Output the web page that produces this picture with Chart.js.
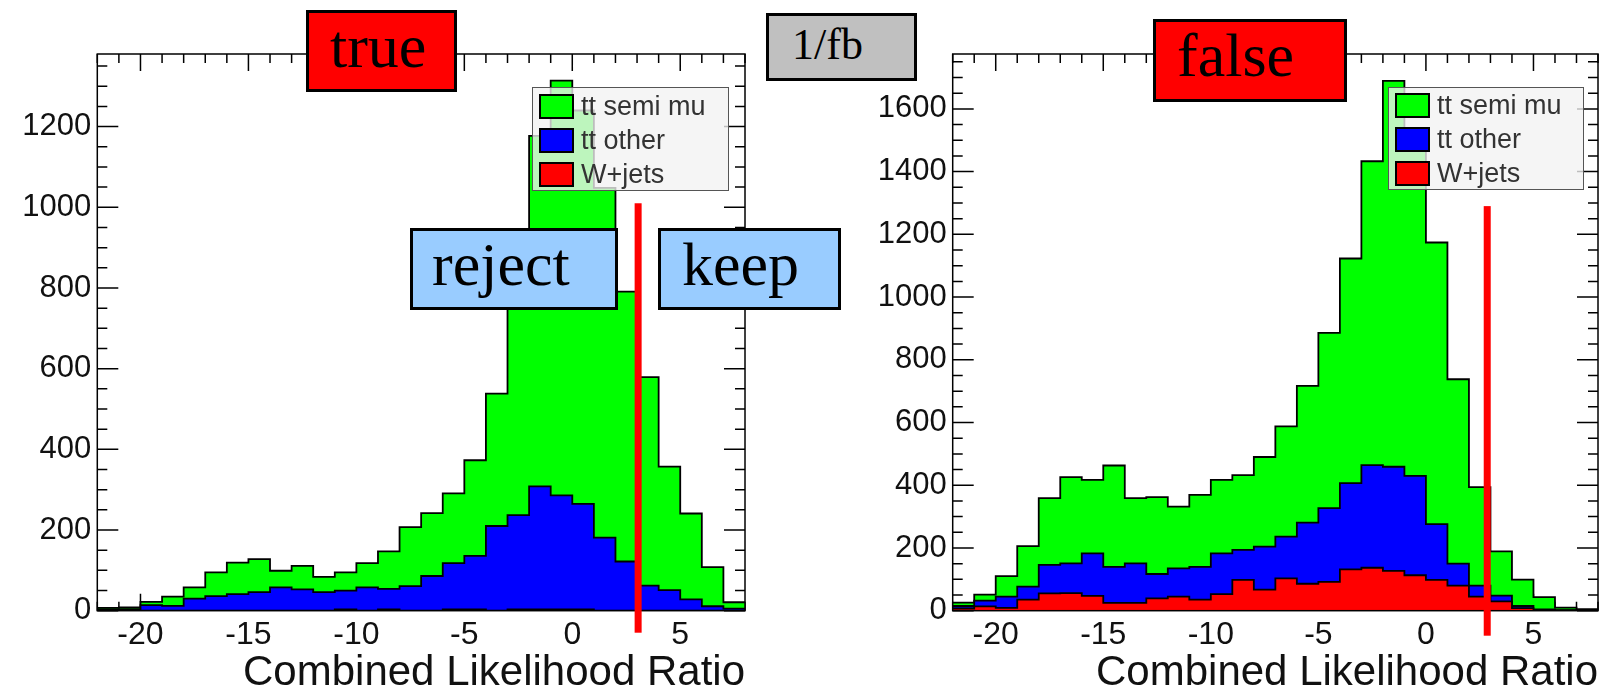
<!DOCTYPE html>
<html>
<head>
<meta charset="utf-8">
<script src="https://cdn.jsdelivr.net/npm/chart.js@4.4.1/dist/chart.umd.min.js"></script>
<style>
  body { margin: 0; background: #fff; width: 1613px; height: 700px; position: relative; overflow: hidden; }
  canvas { position: absolute; top: 0; }
  .tag { position: absolute; box-sizing: border-box; border: 3px solid #000; font-family: 'Liberation Serif', 'Times New Roman', serif; color: #000; white-space: nowrap; }
  .big { font-size: 62px; line-height: 62px; padding-top: 2px; }
  .legend { position: absolute; box-sizing: border-box; border: 1.5px solid #555; background: rgba(242, 242, 242, 0.78); font-family: 'Liberation Sans', Arial, sans-serif; font-size: 27px; color: #333; }
  .legend .row { position: absolute; left: 6px; height: 25px; display: flex; align-items: center; }
  .legend .sw { width: 35px; height: 25px; box-sizing: border-box; border: 2px solid #000; margin-right: 7px; }
</style>
</head>
<body>
<canvas id="left-chart" width="790" height="700" style="left:0"></canvas>
<canvas id="right-chart" width="758" height="700" style="left:855px"></canvas>

<div class="legend" style="left:532px; top:87px; width:197px; height:104px">
  <div class="row" style="top:6px"><div class="sw" style="background:#00ff00"></div>tt semi mu</div>
  <div class="row" style="top:40px"><div class="sw" style="background:#0000ff"></div>tt other</div>
  <div class="row" style="top:74px"><div class="sw" style="background:#ff0000"></div>W+jets</div>
</div>
<div class="legend" style="left:1388px; top:87px; width:196px; height:103px">
  <div class="row" style="top:5px"><div class="sw" style="background:#00ff00"></div>tt semi mu</div>
  <div class="row" style="top:39px"><div class="sw" style="background:#0000ff"></div>tt other</div>
  <div class="row" style="top:73px"><div class="sw" style="background:#ff0000"></div>W+jets</div>
</div>

<div class="tag big" style="left:306px; top:10px; width:151px; height:82px; background:#ff0000; padding-left:21px">true</div>
<div class="tag big" style="left:1153px; top:19px; width:194px; height:83px; background:#ff0000; padding-left:21px">false</div>
<div class="tag big" style="left:410px; top:228px; width:208px; height:82px; background:#99ccff; padding-left:19px">reject</div>
<div class="tag big" style="left:658px; top:228px; width:183px; height:82px; background:#99ccff; padding-left:21px">keep</div>
<div class="tag" style="left:766px; top:13px; width:151px; height:68px; background:#c0c0c0; padding-left:23px; font-size:44px; line-height:44px; padding-top:7px">1/fb</div>

<script>
// histogram binning: lower edge of each bin, last bin ends at 8
const binLow = [-22, -21, -20, -19, -18, -17, -16, -15, -14, -13, -12, -11, -10, -9, -8, -7, -6, -5, -4, -3, -2, -1, 0, 1, 2, 3, 4, 5, 6, 7];
const binHigh = 8;
const xTickValues = [-20, -15, -10, -5, 0, 5];

// left panel ("true")
const trueSemiMu = [4, 4, 8, 23, 28, 59, 78, 82, 41, 58, 38, 45, 60, 93, 146, 156, 173, 237, 328, 613, 869, 1028, 975, 867, 669, 517, 306, 213, 97, 16];
const trueOther  = [3, 4, 14, 12, 30, 36, 41, 46, 58, 53, 46, 47, 58, 51, 61, 86, 115, 133, 210, 234, 305, 283, 262, 181, 122, 62, 51, 28, 11, 5];
const trueWjets  = [0, 0, 0, 0, 0, 0, 0, 0, 0, 0, 0, 3, 0, 3, 0, 0, 3, 3, 0, 3, 3, 3, 3, 0, 0, 0, 0, 0, 0, 0];
const trueYTicks = [0, 200, 400, 600, 800, 1000, 1200];

// right panel ("false")
const falseSemiMu = [11, 19, 65, 129, 213, 275, 234, 323, 208, 245, 197, 229, 234, 238, 286, 352, 436, 559, 716, 969, 1230, 1040, 898, 588, 314, 141, 84, 39, 8, 4];
const falseOther  = [8, 18, 36, 42, 91, 95, 136, 115, 126, 78, 90, 105, 130, 96, 137, 133, 195, 235, 275, 327, 332, 317, 178, 70, 35, 18, 7, 2, 1, 1];
const falseWjets  = [7, 14, 9, 35, 55, 56, 47, 25, 25, 39, 45, 35, 53, 98, 67, 103, 86, 92, 132, 137, 127, 113, 98, 80, 45, 30, 8, 2, 1, 0];
const falseYTicks = [0, 200, 400, 600, 800, 1000, 1200, 1400, 1600];

// cut position (x) and top of the cut line (y)
const trueCut = 3.05, trueCutTop = 1010;
const falseCut = 2.85, falseCutTop = 1290;

Chart.defaults.font.family = "'Liberation Sans', Arial, sans-serif";
Chart.defaults.color = '#111';

// histogram-style points: one per lower edge plus the upper edge of the last bin
function steps(values) {
    const pts = binLow.map((x, i) => ({ x: x, y: values[i] }));
    pts.push({ x: binHigh, y: values[values.length - 1] });
    return pts;
}

// ROOT style frame with inward ticks on all four sides
const rootFrame = {
    id: 'rootFrame',
    beforeDatasetsDraw(chart) {
        const { ctx, chartArea: a, scales: { x, y } } = chart;
        ctx.save();
        ctx.strokeStyle = '#000';
        ctx.lineWidth = 1.5;
        ctx.beginPath();
        for (let v = x.min; v <= x.max; v++) {
            const px = x.getPixelForValue(v);
            const len = xTickValues.includes(v) ? 17 : 9;
            ctx.moveTo(px, a.top); ctx.lineTo(px, a.top + len);
            ctx.moveTo(px, a.bottom); ctx.lineTo(px, a.bottom - len);
        }
        for (let v = 0; v <= y.max; v += 50) {
            const py = y.getPixelForValue(v);
            const len = v % 200 === 0 ? 21 : 10;
            ctx.moveTo(a.left, py); ctx.lineTo(a.left + len, py);
            ctx.moveTo(a.right, py); ctx.lineTo(a.right - len, py);
        }
        ctx.stroke();
        ctx.restore();
    },
    afterDatasetsDraw(chart) {
        const { ctx, chartArea: a } = chart;
        ctx.save();
        ctx.strokeStyle = '#000';
        ctx.lineWidth = 1.5;
        ctx.strokeRect(a.left, a.top, a.right - a.left, a.bottom - a.top);
        ctx.restore();
    },
    afterDraw(chart) {
        const opts = chart.options.plugins.rootFrame;
        const { ctx, chartArea: a, scales: { x, y } } = chart;
        const px = x.getPixelForValue(opts.cut);
        const top = y.getPixelForValue(opts.cutTop);
        ctx.save();
        ctx.fillStyle = '#ff0000';
        ctx.fillRect(px - 3.5, top, 7, a.bottom + opts.below - top);
        ctx.restore();
    }
};

function makeChart(canvas, semi, other, wjets, yMax, yTicks, cut, cutTop, below, yWidth, padRight) {
    const line = (label, data, color, fill) => ({
        label: label,
        data: steps(data),
        stepped: 'before',
        fill: fill,
        backgroundColor: color,
        borderColor: '#000',
        borderWidth: 1.8,
        pointRadius: 0
    });
    return new Chart(canvas.getContext('2d'), {
        type: 'line',
        data: {
            datasets: [
                line('W+jets', wjets, '#ff0000', 'origin'),
                line('tt other', other, '#0000ff', '-1'),
                line('tt semi mu', semi, '#00ff00', '-1')
            ]
        },
        options: {
            responsive: false,
            animation: false,
            layout: { padding: { left: 0, top: 54, right: padRight, bottom: 0 } },
            scales: {
                x: {
                    type: 'linear',
                    min: -22,
                    max: 8,
                    grid: { display: false, drawTicks: false },
                    border: { display: false },
                    afterBuildTicks: s => { s.ticks = xTickValues.map(v => ({ value: v })); },
                    afterFit: s => { s.height = 89.3; },
                    ticks: { font: { size: 32 }, padding: 5, maxRotation: 0, autoSkip: false, callback: v => String(v) },
                    title: {
                        display: true,
                        text: 'Combined Likelihood Ratio',
                        align: 'end',
                        font: { size: 42 },
                        padding: { top: 0, bottom: 1 }
                    }
                },
                y: {
                    stacked: true,
                    min: 0,
                    max: yMax,
                    grid: { display: false, drawTicks: false },
                    border: { display: false },
                    afterBuildTicks: s => { s.ticks = yTicks.map(v => ({ value: v })); },
                    afterFit: s => { s.width = yWidth; },
                    ticks: { font: { size: 31 }, padding: 6, autoSkip: false, callback: v => String(v) }
                }
            },
            plugins: {
                legend: { display: false },
                tooltip: { enabled: false },
                rootFrame: { cut: cut, cutTop: cutTop, below: below }
            }
        },
        plugins: [rootFrame]
    });
}

makeChart(document.querySelector('#left-chart'), trueSemiMu, trueOther, trueWjets,
    1380, trueYTicks, trueCut, trueCutTop, 22, 97.3, 45);
makeChart(document.querySelector('#right-chart'), falseSemiMu, falseOther, falseWjets,
    1775, falseYTicks, falseCut, falseCutTop, 25, 97.7, 15);
</script>
</body>
</html>
